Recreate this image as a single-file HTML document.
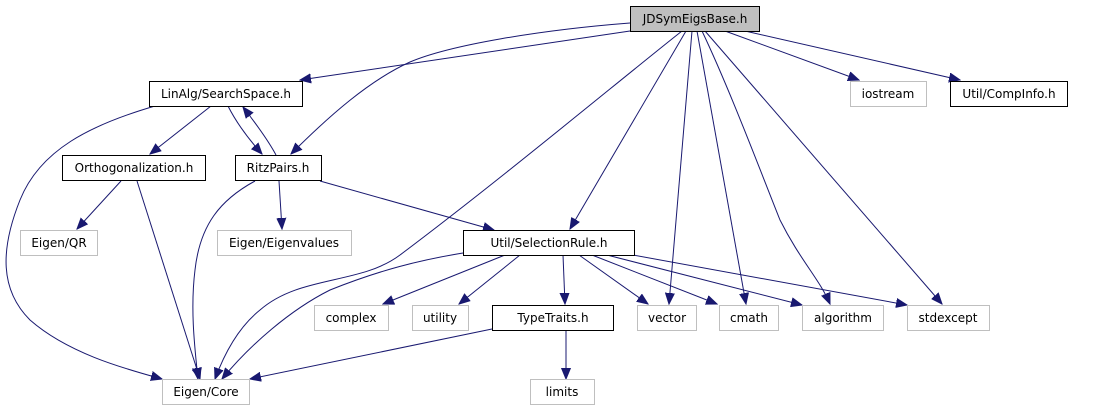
<!DOCTYPE html>
<html><head><meta charset="utf-8"><style>
html,body{margin:0;padding:0;background:#fff;}
svg{display:block;}
text{font-family:"DejaVu Sans","Liberation Sans",sans-serif;font-size:12px;fill:#000;text-anchor:middle;}
.b{fill:#fff;stroke:#000;stroke-width:1;}
.g{fill:#fff;stroke:#bfbfbf;stroke-width:1;}
.e{fill:none;stroke:#191970;stroke-width:1;marker-end:url(#a);}
</style></head><body>
<svg width="1100" height="411" viewBox="0 0 1100 411" xmlns="http://www.w3.org/2000/svg">
<defs><marker id="a" markerUnits="userSpaceOnUse" markerWidth="12" markerHeight="10" refX="11" refY="5" orient="auto"><path d="M0,0.5 L11,5 L0,9.5 Z" fill="#191970" stroke="#191970"/></marker></defs>
<g>
<path class="e" d="M630,31 L300,80"/>
<path class="e" d="M630,23 C540,30 450,45 410,62 C370,80 330,115 291,154"/>
<path class="e" d="M682,31 C620,80 500,180 400,255 C360,285 300,275 260,310 C235,330 222,360 215,379"/>
<path class="e" d="M686,31 L570,229"/>
<path class="e" d="M692,31 L669,304"/>
<path class="e" d="M697,31 L746,304"/>
<path class="e" d="M702,31 C730,90 760,170 780,220 C800,260 820,280 830,304"/>
<path class="e" d="M705,31 L942,304"/>
<path class="e" d="M725,31 L859,80"/>
<path class="e" d="M745,31 L960,80"/>
<path class="e" d="M155,106 C90,125 40,150 20,200 C0,250 0,290 30,320 C70,355 130,370 162,379"/>
<path class="e" d="M211,106 L150,154"/>
<path class="e" d="M228,106 C235,120 245,135 262,154"/>
<path class="e" d="M276,155 C268,140 257,125 243,107"/>
<path class="e" d="M121,181 L77,229"/>
<path class="e" d="M137,181 L200,379"/>
<path class="e" d="M255,181 C220,200 200,225 195,270 C190,310 195,350 198,379"/>
<path class="e" d="M279,181 L282,229"/>
<path class="e" d="M320,181 L494,230"/>
<path class="e" d="M463,253 C420,260 380,270 330,290 C290,310 250,345 222,379"/>
<path class="e" d="M505,255 L383,304"/>
<path class="e" d="M520,255 L459,304"/>
<path class="e" d="M563,255 L565,304"/>
<path class="e" d="M579,255 L648,304"/>
<path class="e" d="M592,255 L717,304"/>
<path class="e" d="M607,255 L802,305"/>
<path class="e" d="M633,255 L907,305"/>
<path class="e" d="M492,329 L250,379"/>
<path class="e" d="M566,330 L566,379"/>
</g>
<rect x="630.5" y="6.5" width="129" height="25" fill="#bfbfbf" stroke="#000"/><text x="695" y="23">JDSymEigsBase.h</text>
<rect class="b" x="149.5" y="81.5" width="153" height="25"/><text x="226" y="98">LinAlg/SearchSpace.h</text>
<rect class="g" x="850.5" y="81.5" width="76" height="25"/><text x="888" y="98">iostream</text>
<rect class="b" x="950.5" y="81.5" width="117" height="25"/><text x="1009" y="98">Util/CompInfo.h</text>
<rect class="b" x="62.5" y="155.5" width="143" height="25"/><text x="134" y="172">Orthogonalization.h</text>
<rect class="b" x="235.5" y="155.5" width="86" height="25"/><text x="278" y="172">RitzPairs.h</text>
<rect class="g" x="20.5" y="230.5" width="77" height="25"/><text x="59" y="247">Eigen/QR</text>
<rect class="g" x="217.5" y="230.5" width="134" height="25"/><text x="284" y="247">Eigen/Eigenvalues</text>
<rect class="b" x="463.5" y="230.5" width="171" height="25"/><text x="549" y="247">Util/SelectionRule.h</text>
<rect class="g" x="314.5" y="305.5" width="74" height="25"/><text x="351" y="322">complex</text>
<rect class="g" x="412.5" y="305.5" width="56" height="25"/><text x="440" y="322">utility</text>
<rect class="b" x="492.5" y="305.5" width="121" height="25"/><text x="553" y="322">TypeTraits.h</text>
<rect class="g" x="637.5" y="305.5" width="59" height="25"/><text x="667" y="322">vector</text>
<rect class="g" x="719.5" y="305.5" width="59" height="25"/><text x="749" y="322">cmath</text>
<rect class="g" x="802.5" y="305.5" width="81" height="25"/><text x="843" y="322">algorithm</text>
<rect class="g" x="907.5" y="305.5" width="82" height="25"/><text x="948" y="322">stdexcept</text>
<rect class="g" x="162.5" y="379.5" width="87" height="25"/><text x="206" y="396">Eigen/Core</text>
<rect class="g" x="530.5" y="379.5" width="64" height="25"/><text x="562" y="396">limits</text>
</svg>
</body></html>
